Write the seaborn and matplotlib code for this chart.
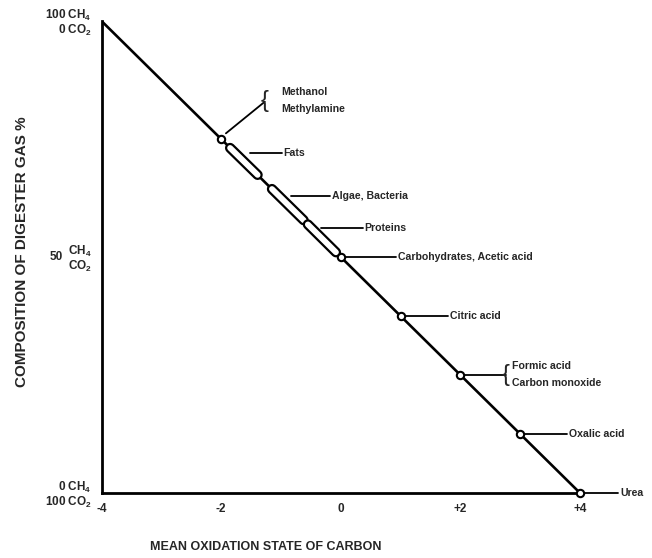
import matplotlib
matplotlib.use("Agg")
import matplotlib.pyplot as plt
import seaborn as sns
import pandas as pd

# ---- data ----
line_ox = [-4, 4]
line_ch4 = [100, 0]

point_names = ["Methanol/Methylamine", "Carbohydrates, Acetic acid", "Citric acid",
               "Formic acid/Carbon monoxide", "Oxalic acid", "Urea"]
point_ox = [-2, 0, 1, 2, 3, 4]
point_ch4 = [75, 50, 37.5, 25, 12.5, 0]

capsule_names = ["Fats", "Algae, Bacteria", "Proteins"]
capsule_ox_start = [-1.85, -1.15, -0.55]
capsule_ox_end = [-1.39, -0.62, -0.08]
capsule_ch4_start = [73.1, 64.4, 56.9]
capsule_ch4_end = [67.4, 57.8, 51.0]

xtick_vals = [-4, -2, 0, 2, 4]
xtick_labels = ["-4", "-2", "0", "+2", "+4"]

single_labels = ["Fats", "Algae, Bacteria", "Proteins", "Carbohydrates, Acetic acid",
                 "Citric acid", "Oxalic acid", "Urea"]
single_from_x = [-1.52, -0.83, -0.33, 0.07, 1.05, 3.06, 4.07]
single_to_x = [-0.99, -0.18, 0.37, 0.93, 1.79, 3.78, 4.64]
single_y = [72.0, 62.9, 56.1, 50.0, 37.5, 12.5, 0.0]

# ---- figure ----
sns.set_theme(style="white")
plt.rcParams['font.family'] = ['Liberation Sans', 'DejaVu Sans']
plt.rcParams['font.weight'] = 'bold'
plt.rcParams['mathtext.fontset'] = 'custom'
plt.rcParams['mathtext.rm'] = 'Liberation Sans:bold'
plt.rcParams['mathtext.it'] = 'Liberation Sans:bold'
plt.rcParams['mathtext.bf'] = 'Liberation Sans:bold'

fig = plt.figure(figsize=(6.52, 5.58), dpi=100)
W, H = 652, 558
ax = fig.add_axes([101.5 / W, 65 / H, (580 - 101.5) / W, (493 - 21) / H])

line_df = pd.DataFrame({"ox": line_ox, "ch4": line_ch4})
sns.lineplot(data=line_df, x="ox", y="ch4", ax=ax, color="black", lw=1.9, zorder=2)

# capsules
for i, (xs, xe, ys, ye) in enumerate(zip(capsule_ox_start, capsule_ox_end,
                                         capsule_ch4_start, capsule_ch4_end)):
    ax.plot([xs, xe], [ys, ye], color="black", lw=7.4, solid_capstyle="round", zorder=3 + 2 * i)
    ax.plot([xs, xe], [ys, ye], color="white", lw=4.2, solid_capstyle="round", zorder=4 + 2 * i)

pt_df = pd.DataFrame({"ox": point_ox, "ch4": point_ch4})
sns.scatterplot(data=pt_df, x="ox", y="ch4", ax=ax, s=28, facecolor="white",
                edgecolor="black", linewidth=1.5, zorder=10, clip_on=False)

fs = 7.6
for name, x0, x1, y in zip(single_labels, single_from_x, single_to_x, single_y):
    ax.plot([x0, x1], [y, y], color="black", lw=1.3, clip_on=False, zorder=2)
    ax.text(x1 + 0.03, y, name, fontsize=fs, fontweight="bold", va="center",
            ha="left", clip_on=False)

# Methanol / Methylamine
ax.plot([-1.92, -1.27], [76.2, 82.9], color="black", lw=1.3, clip_on=False)
ax.text(-1.34, 83.0, "{", fontsize=17, fontweight="normal", va="center", ha="left")
ax.text(-0.99, 85.0, "Methanol", fontsize=fs, fontweight="bold", va="center", ha="left")
ax.text(-0.99, 81.4, "Methylamine", fontsize=fs, fontweight="bold", va="center", ha="left")

# Formic acid / Carbon monoxide
ax.plot([2.03, 2.76], [25, 25], color="black", lw=1.3, clip_on=False)
ax.text(2.69, 25.1, "{", fontsize=17, fontweight="normal", va="center", ha="left")
ax.text(2.86, 26.9, "Formic acid", fontsize=fs, fontweight="bold", va="center", ha="left")
ax.text(2.86, 23.2, "Carbon monoxide", fontsize=fs, fontweight="bold", va="center", ha="left")

# axes styling
ax.set_xlim(-4, 4)
ax.set_ylim(0, 100)
for s in ["top", "right"]:
    ax.spines[s].set_visible(False)
for s in ["left", "bottom"]:
    ax.spines[s].set_linewidth(2.0)
    ax.spines[s].set_color("black")

ax.set_xticks(xtick_vals)
ax.set_xticklabels(xtick_labels, fontsize=8.5, fontweight="bold")
ax.tick_params(axis="x", length=0, pad=7)

ax.set_yticks([0, 50, 100])
ax.set_yticklabels([r"0 CH$_4$" + "\n" + r"100 CO$_2$", r"CH$_4$" + "\n" + r"CO$_2$",
                    r"100 CH$_4$" + "\n" + r"0 CO$_2$"],
                   fontsize=8.5, fontweight="bold", multialignment="right",
                   linespacing=0.95)
ax.tick_params(axis="y", length=3, width=1.2, pad=4, color="black", direction="out")
ax.text(-4.65, 50, "50", fontsize=8.5, fontweight="bold", va="center", ha="right")

ax.set_xlabel("")
ax.set_ylabel("")
fig.text(22 / W, 1 - 252 / H, "COMPOSITION OF DIGESTER GAS %", rotation=90,
         fontsize=11, fontweight="bold", va="center", ha="center")
fig.text(266 / W, 1 - 547 / H, "MEAN OXIDATION STATE OF CARBON",
         fontsize=9, fontweight="bold", va="center", ha="center")

fig.savefig("out.png", dpi=100, facecolor="white")
